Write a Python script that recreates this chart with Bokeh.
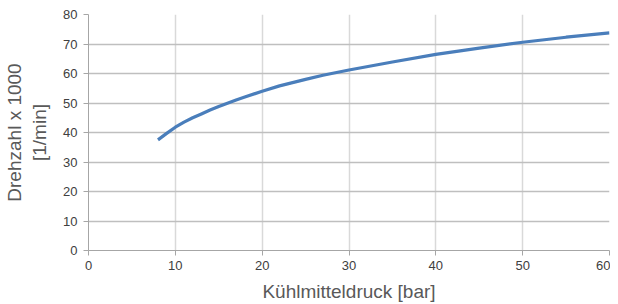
from bokeh.plotting import figure
from bokeh.models import Range1d, FixedTicker
from bokeh.embed import file_html
from bokeh.resources import INLINE

pressure = [8, 9, 10, 11, 12, 13, 14, 15, 16, 17, 18, 20, 22, 25, 27, 30, 35, 40, 45, 50, 55, 60]
speed = [37.5, 39.7, 41.8, 43.5, 45.0, 46.3, 47.6, 48.8, 49.9, 51.0, 52.0, 54.0, 55.8, 58.0, 59.4,
         61.2, 63.9, 66.5, 68.6, 70.6, 72.3, 73.8]
x_ticks = [0, 10, 20, 30, 40, 50, 60]
y_ticks = [0, 10, 20, 30, 40, 50, 60, 70, 80]

p = figure(width=610, height=304, output_backend="svg", toolbar_location=None,
           x_range=Range1d(0, 60), y_range=Range1d(0, 80),
           min_border_left=81, min_border_right=1, min_border_top=14, min_border_bottom=40)
p.outline_line_color = None
p.background_fill_color = "white"

p.line(pressure, speed, line_color="#4a7ebb", line_width=3.2)

font = "Liberation Sans"
for ax, ticks in ((p.xaxis, x_ticks), (p.yaxis, y_ticks)):
    ax.ticker = FixedTicker(ticks=ticks)
    ax.axis_line_color = "#a6a6a6"
    ax.major_tick_line_color = "#a6a6a6"
    ax.major_tick_out = 5
    ax.major_tick_in = 0
    ax.minor_tick_line_color = None
    ax.major_label_text_font = font
    ax.major_label_text_font_size = "13px"
    ax.major_label_text_color = "#404040"
    ax.axis_label_text_font = font
    ax.axis_label_text_font_size = "19px"
    ax.axis_label_text_color = "#595959"
    ax.axis_label_text_font_style = "normal"

p.xaxis.axis_label = "Kühlmitteldruck [bar]"
p.yaxis.axis_label = "Drehzahl x 1000\n[1/min]"
p.xaxis.major_label_standoff = 5
p.yaxis.major_label_standoff = 6
p.xaxis.axis_label_standoff = 8
p.yaxis.axis_label_standoff = 10

p.xgrid.grid_line_color = "#d9d9d9"
p.ygrid.grid_line_color = "#bfbfbf"
p.xgrid.grid_line_width = 1.5
p.ygrid.grid_line_width = 1.5

open("out.html", "w").write(file_html(p, INLINE))
